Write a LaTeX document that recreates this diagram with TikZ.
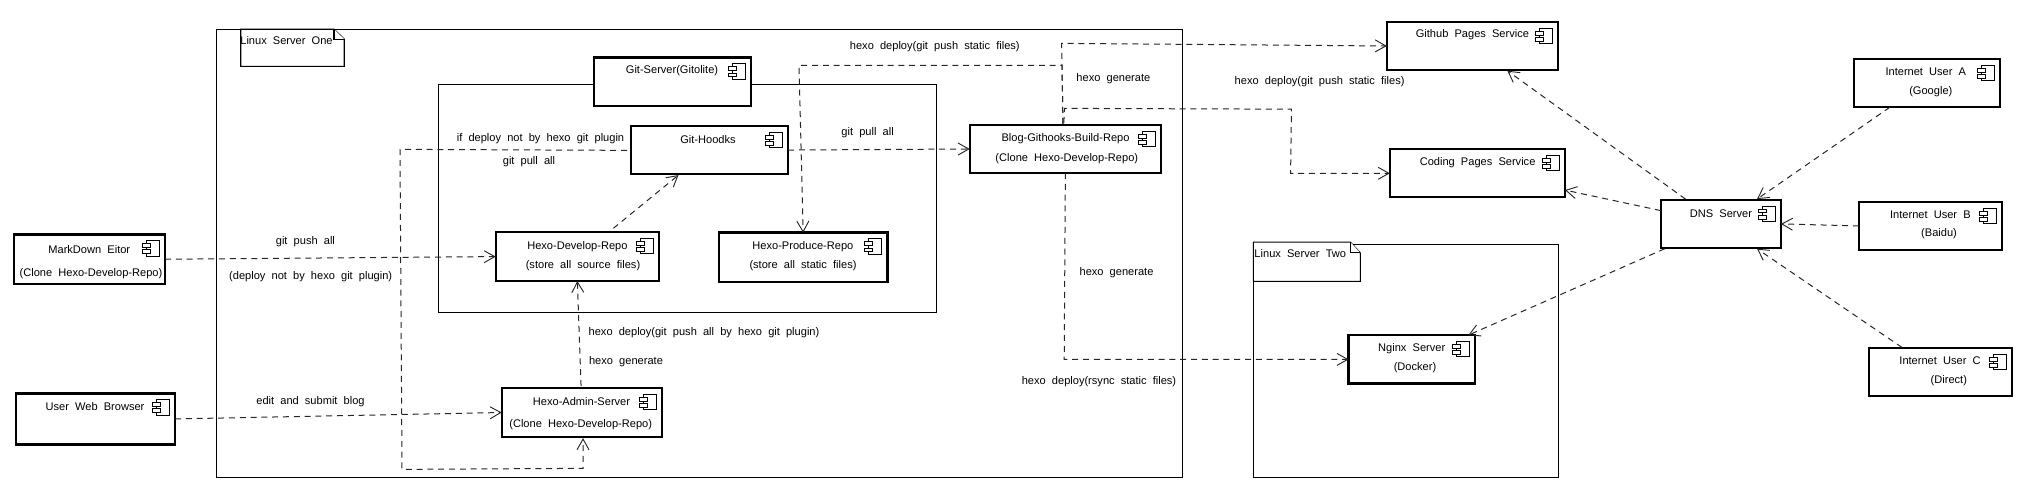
\documentclass[tikz,border=0pt]{standalone}
\usepackage{fontspec}
\setmainfont{Liberation Sans}[WordSpace=2.0]
\usetikzlibrary{arrows.meta,calc}
\tikzset{
  x=0.75pt,y=-0.5765pt,
  compbox/.style={draw=black,fill=white,line width=1.8pt,outer sep=0pt,inner sep=0pt},
  container/.style={draw=black,line width=0.85pt,outer sep=0pt,inner sep=0pt},
  notepath/.style={draw=black,fill=white,line width=0.85pt},
  iconpart/.style={draw=black,fill=white,line width=0.7pt},
  lbl/.style={font=\fontsize{8.3pt}{10pt}\selectfont,inner sep=0pt,outer sep=0pt,text=black},
  dep/.style={draw=black!85,line width=0.75pt,dash pattern=on 4.5pt off 3.6pt,-{Straight Barb[length=8pt,width=9pt,line width=0.7pt]}}
}
\newcommand{\pcomp}[5]{%
  \node[compbox,minimum width={(#4-#2)*0.75pt},minimum height={(#5-#3)*0.5765pt}] (#1) at ({(#2+#4)/2},{(#3+#5)/2}) {};
  \draw[iconpart] ($(#1.north east)+(-6,8)$) rectangle ($(#1.north east)+(-19,28)$);
  \draw[iconpart] ($(#1.north east)+(-15,12)$) rectangle ($(#1.north east)+(-22.5,17)$);
  \draw[iconpart] ($(#1.north east)+(-15,20)$) rectangle ($(#1.north east)+(-22.5,25)$);
}
\newcommand{\pcont}[5]{%
  \node[container,minimum width={(#4-#2)*0.75pt},minimum height={(#5-#3)*0.5765pt}] (#1) at ({(#2+#4)/2},{(#3+#5)/2}) {};
}
\newcommand{\plbl}[4]{\node[lbl] (#1) at (#2,#3) {#4};}
\begin{document}
\begin{tikzpicture}
\useasboundingbox (0,0) rectangle (2026,647.8);
% containers
\pcont{serverone}{216.4}{38}{1182.6}{621}
\pcont{servertwo}{1253.3}{318}{1558.5}{621}
\pcont{gitarea}{438.4}{109.7}{936.3}{406.3}
% notes
\draw[notepath] (240.7,38) -- (334,38) -- (344.3,51) -- (344.3,86.3) -- (240.7,86.3) -- cycle;
\draw[notepath] (334,38) -- (334,51) -- (344.3,51);
\draw[notepath] (1253.3,315) -- (1350.4,315) -- (1360.3,329) -- (1360.3,366) -- (1253.3,366) -- cycle;
\draw[notepath] (1350.4,315) -- (1350.4,329) -- (1360.3,329);
% components
\pcomp{mde}{14}{305}{165}{369.5}
\pcomp{browser}{16}{512}{175}{578}
\pcomp{gitserver}{593.7}{75}{751}{138}
\pcomp{hoodks}{631}{164}{788}{226.4}
\pcomp{develop}{495.7}{302}{659}{365.6}
\pcomp{produce}{719}{302.7}{887.3}{367}
\pcomp{admin}{501.7}{504.8}{662}{568.5}
\pcomp{blog}{969.7}{162.6}{1161}{225}
\pcomp{nginx}{1348.6}{436}{1475}{498.7}
\pcomp{github}{1386.8}{28.6}{1558}{91}
\pcomp{coding}{1389.8}{193.8}{1565}{256.3}
\pcomp{dns}{1660.8}{260}{1781}{322.6}
\pcomp{usera}{1853.8}{76.8}{2000}{139}
\pcomp{userb}{1859}{262.8}{2002}{325}
\pcomp{userc}{1869}{452.7}{2012}{515}
% waypoints
\coordinate (w1) at (400,194.3);
\coordinate (w2) at (402,610.6);
\coordinate (w3) at (583,609.3);
\coordinate (w4) at (1062,85);
\coordinate (w5) at (799,85);
\coordinate (w6) at (1061.6,56.4);
\coordinate (w7) at (1064.6,141);
\coordinate (w8) at (1291.4,142);
\coordinate (w9) at (1290.6,225.5);
\coordinate (w10) at (1064.2,467.5);
% connectors
\draw[dep] (mde.east) -- (develop.west);
\draw[dep] (browser.east) -- (admin.west);
\draw[dep] ($(hoodks.west)+(-4,0.4)$) -- (w1) -- (w2) -- (w3) -- ($(admin.south)+(1.2,1.5)$);
\draw[dep] ($(develop.north)+(36,-5)$) -- ($(hoodks.south)+(-31,1.3)$);
\draw[dep] ($(admin.north)+(-0.8,-2.8)$) -- (develop.south);
\draw[dep] (hoodks.east) -- (blog.west);
\draw[dep] ($(blog.north)+(-2.4,-1.6)$) -- (w4) -- (w5) -- (produce.north);
\draw[dep] ($(blog.north)+(-2.4,-1.6)$) -- (w6) -- (github.west);
\draw[dep] ($(blog.north)+(-1.6,-2.6)$) -- (w7) -- (w8) -- (w9) -- ($(coding.west)+(0,0.4)$);
\draw[dep] (blog.south) -- (w10) -- ($(nginx.west)+(0,0.2)$);
\draw[dep] ($(dns.north west)+(24.7,-1)$) -- ($(github.south)+(34.9,1)$);
\draw[dep] ($(dns.north west)+(0,14)$) -- ($(coding.south east)+(0,-9)$);
\draw[dep] ($(dns.south west)+(3.9,1)$) -- ($(nginx.north east)+(-6.7,0)$);
\draw[dep] ($(usera.south west)+(36,0.6)$) -- ($(dns.north east)+(-24,-1)$);
\draw[dep] (userb.west) -- (dns.east);
\draw[dep] ($(userc.north west)+(33,-0.7)$) -- ($(dns.south east)+(-24,1)$);
% texts
\plbl{t1}{89.3}{324.4}{MarkDown Eitor}
\plbl{t2}{91}{355.6}{(Clone Hexo-Develop-Repo)}
\plbl{t3}{95}{529.5}{User Web Browser}
\plbl{t4}{286.5}{52.5}{Linux Server One}
\plbl{t5}{672}{92.4}{Git-Server(Gitolite)}
\plbl{t6}{708}{181}{Git-Hoodks}
\plbl{t7}{540.5}{180}{if deploy not by hexo git plugin}
\plbl{t8}{529}{210}{git pull all}
\plbl{t9}{305.4}{314}{git push all}
\plbl{t10}{310.7}{359.5}{(deploy not by hexo git plugin)}
\plbl{t11}{577.4}{320.5}{Hexo-Develop-Repo}
\plbl{t12}{583}{346}{(store all source files)}
\plbl{t13}{802.9}{321}{Hexo-Produce-Repo}
\plbl{t14}{803}{346}{(store all static files)}
\plbl{t15}{704}{432.4}{hexo deploy(git push all by hexo git plugin)}
\plbl{t16}{626}{470}{hexo generate}
\plbl{t17}{310.5}{522}{edit and submit blog}
\plbl{t18}{581.5}{523}{Hexo-Admin-Server}
\plbl{t19}{580.7}{553}{(Clone Hexo-Develop-Repo)}
\plbl{t20}{934.8}{61}{hexo deploy(git push static files)}
\plbl{t21}{1113.4}{102}{hexo generate}
\plbl{t22}{867.6}{172}{git pull all}
\plbl{t23}{1065.5}{180}{Blog-Githooks-Build-Repo}
\plbl{t24}{1066.8}{207}{(Clone Hexo-Develop-Repo)}
\plbl{t25}{1116.5}{354.3}{hexo generate}
\plbl{t26}{1099}{497}{hexo deploy(rsync static files)}
\plbl{t27}{1319.6}{106.7}{hexo deploy(git push static files)}
\plbl{t28}{1300.3}{329.6}{Linux Server Two}
\plbl{t29}{1472.4}{45.5}{Github Pages Service}
\plbl{t30}{1477.6}{211}{Coding Pages Service}
\plbl{t31}{1720.9}{277.5}{DNS Server}
\plbl{t32}{1411.7}{453}{Nginx Server}
\plbl{t33}{1415}{478.3}{(Docker)}
\plbl{t34}{1925.8}{93.7}{Internet User A}
\plbl{t35}{1930.8}{119.3}{(Google)}
\plbl{t36}{1930.4}{279.7}{Internet User B}
\plbl{t37}{1939}{304.4}{(Baidu)}
\plbl{t38}{1940}{469.6}{Internet User C}
\plbl{t39}{1948.8}{495.2}{(Direct)}
\end{tikzpicture}
\end{document}
